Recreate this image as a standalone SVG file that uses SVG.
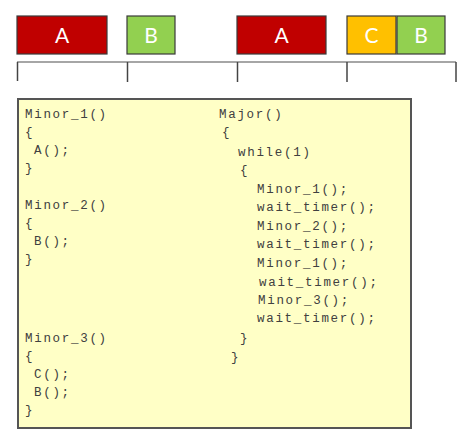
<svg xmlns="http://www.w3.org/2000/svg" width="462" height="446" viewBox="0 0 462 446">
<style>
.blk{stroke:#3a3a3a;stroke-width:1.2}
.lbl{font-family:Lato,"Open Sans",sans-serif;font-size:21px;fill:#ffffff;text-anchor:middle}
.code{font-family:"Liberation Mono","DejaVu Sans Mono",monospace;font-size:12.5px;letter-spacing:1.7px;fill:#404040}
.tick{stroke:#444;stroke-width:1.5}
</style>
<rect width="462" height="446" fill="#ffffff"/>
<g id="timeline">
<line x1="17" y1="62" x2="456" y2="62" stroke="#888" stroke-width="1.5"/>
<line class="tick" x1="17.5" y1="62" x2="17.5" y2="81"/>
<line class="tick" x1="127.5" y1="62" x2="127.5" y2="82"/>
<line class="tick" x1="237.5" y1="62" x2="237.5" y2="82"/>
<line class="tick" x1="347" y1="62" x2="347" y2="82"/>
<line class="tick" x1="456" y1="62" x2="456" y2="82"/>
</g>
<g id="blockA1"><rect class="blk" x="17" y="16" width="90" height="38" fill="#c00000"/><text class="lbl" x="62" y="43">A</text></g>
<g id="blockB1"><rect class="blk" x="127" y="16" width="48" height="38" fill="#92d050"/><text class="lbl" x="151" y="43">B</text></g>
<g id="blockA2"><rect class="blk" x="237" y="16" width="89" height="38" fill="#c00000"/><text class="lbl" x="281.5" y="43">A</text></g>
<g id="blockC"><rect class="blk" x="347" y="16" width="49" height="38" fill="#ffc000"/><text class="lbl" x="371.5" y="43">C</text></g>
<g id="blockB2"><rect class="blk" x="397" y="16" width="48" height="38" fill="#92d050"/><text class="lbl" x="421" y="43">B</text></g>
<g id="codebox">
<rect x="18" y="99" width="393" height="329" fill="#ffffc6" stroke="#555" stroke-width="2"/>
<text class="code" x="25" y="118">Minor_1()</text>
<text class="code" x="25" y="136">{</text>
<text class="code" x="34" y="154">A();</text>
<text class="code" x="25" y="172">}</text>
<text class="code" x="25" y="209">Minor_2()</text>
<text class="code" x="25" y="227">{</text>
<text class="code" x="34" y="245">B();</text>
<text class="code" x="25" y="263">}</text>
<text class="code" x="25" y="342">Minor_3()</text>
<text class="code" x="25" y="360">{</text>
<text class="code" x="34" y="378">C();</text>
<text class="code" x="34" y="396">B();</text>
<text class="code" x="25" y="414">}</text>
<text class="code" x="219" y="118">Major()</text>
<text class="code" x="222" y="136">{</text>
<text class="code" x="238" y="156">while(1)</text>
<text class="code" x="240" y="174">{</text>
<text class="code" x="257" y="193">Minor_1();</text>
<text class="code" x="257" y="211">wait_timer();</text>
<text class="code" x="257" y="230">Minor_2();</text>
<text class="code" x="257" y="248">wait_timer();</text>
<text class="code" x="257" y="267">Minor_1();</text>
<text class="code" x="259" y="286">wait_timer();</text>
<text class="code" x="258" y="304">Minor_3();</text>
<text class="code" x="257" y="322">wait_timer();</text>
<text class="code" x="240" y="342">}</text>
<text class="code" x="231" y="361">}</text>
</g>
</svg>
